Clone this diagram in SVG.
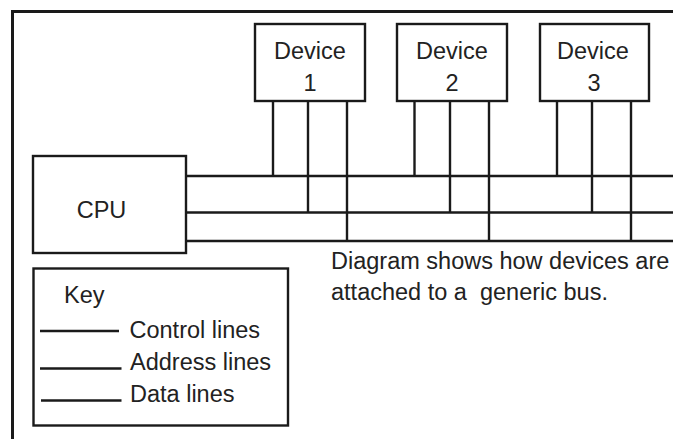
<svg xmlns="http://www.w3.org/2000/svg" width="673" height="439" viewBox="0 0 673 439">
  <style>
    .box { fill: #ffffff; stroke: #1a1a1a; stroke-width: 2.4; }
    .frame { fill: none; stroke: #1a1a1a; stroke-width: 3; }
    .bus { fill: none; stroke: #1a1a1a; stroke-width: 2.4; }
    .lbl { font-family: "Liberation Sans", Arial, sans-serif; font-size: 23.5px; fill: #222222; }
    .mid { text-anchor: middle; }
  </style>
  <rect width="673" height="439" fill="#ffffff"/>

  <!-- outer frame (open to the right and bottom) -->
  <path class="frame" d="M12.5 439 V11.5 H673"/>

  <!-- bus wiring: control, address and data lines with device taps -->
  <g id="connectors">
    <line class="bus" x1="186" y1="176" x2="673" y2="176"/>
    <line class="bus" x1="186" y1="212.5" x2="673" y2="212.5"/>
    <line class="bus" x1="186" y1="241" x2="673" y2="241"/>
    <!-- device 1 taps -->
    <line class="bus" x1="273" y1="101" x2="273" y2="176"/>
    <line class="bus" x1="308" y1="101" x2="308" y2="212.5"/>
    <line class="bus" x1="347" y1="101" x2="347" y2="241"/>
    <!-- device 2 taps -->
    <line class="bus" x1="414.5" y1="101" x2="414.5" y2="176"/>
    <line class="bus" x1="450" y1="101" x2="450" y2="212.5"/>
    <line class="bus" x1="489" y1="101" x2="489" y2="241"/>
    <!-- device 3 taps -->
    <line class="bus" x1="557" y1="101" x2="557" y2="176"/>
    <line class="bus" x1="592" y1="101" x2="592" y2="212.5"/>
    <line class="bus" x1="631" y1="101" x2="631" y2="241"/>
  </g>

  <g id="device1">
    <rect class="box" x="255" y="24" width="110" height="77"/>
    <text class="lbl mid" x="310" y="59">Device</text>
    <text class="lbl mid" x="310" y="91">1</text>
  </g>
  <g id="device2">
    <rect class="box" x="397" y="24" width="110" height="77"/>
    <text class="lbl mid" x="452" y="59">Device</text>
    <text class="lbl mid" x="452" y="91">2</text>
  </g>
  <g id="device3">
    <rect class="box" x="540" y="24" width="109" height="77"/>
    <text class="lbl mid" x="593" y="59">Device</text>
    <text class="lbl mid" x="594" y="91">3</text>
  </g>

  <g id="cpu">
    <rect class="box" x="33" y="156" width="153" height="97"/>
    <text class="lbl mid" x="101.5" y="218">CPU</text>
  </g>

  <g id="caption">
    <text class="lbl" x="331" y="268.5">Diagram shows how devices are</text>
    <text class="lbl" x="331" y="300" xml:space="preserve">attached to a  generic bus.</text>
  </g>

  <g id="key">
    <rect class="box" x="33.5" y="268.5" width="254.5" height="157"/>
    <text class="lbl" x="64" y="302.5">Key</text>
    <line class="bus" x1="40" y1="331" x2="119" y2="331"/>
    <text class="lbl" x="129.5" y="338">Control lines</text>
    <line class="bus" x1="40" y1="368.5" x2="121.5" y2="368.5"/>
    <text class="lbl" x="130" y="370">Address lines</text>
    <line class="bus" x1="41" y1="400.5" x2="121.5" y2="400.5"/>
    <text class="lbl" x="130" y="402">Data lines</text>
  </g>
</svg>
